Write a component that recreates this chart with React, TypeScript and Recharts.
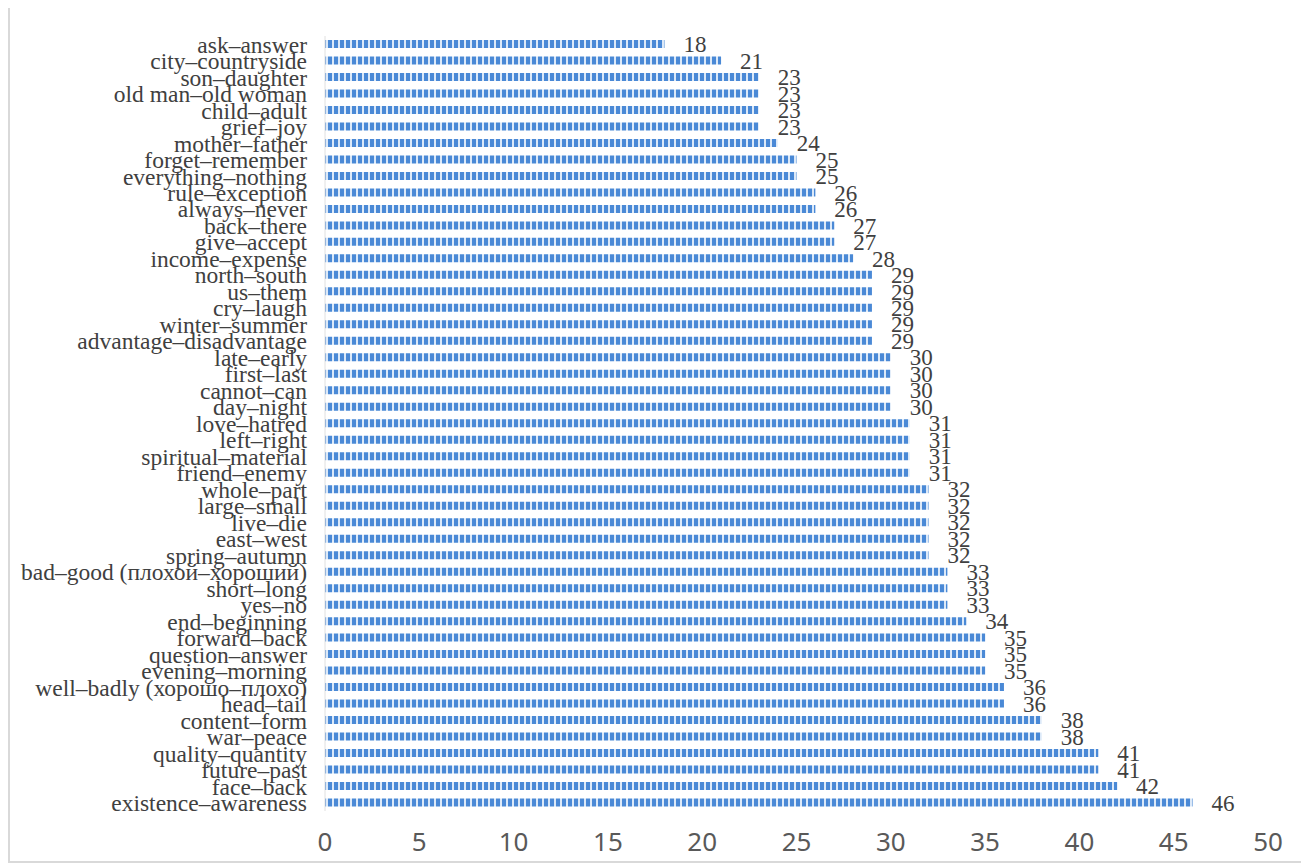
import React from 'react';
import { BarChart, Bar, XAxis, YAxis, LabelList } from 'recharts';

// Word pairs, listed top to bottom
const pairs: string[] = [
  'ask–answer',
  'city–countryside',
  'son–daughter',
  'old man–old woman',
  'child–adult',
  'grief–joy',
  'mother–father',
  'forget–remember',
  'everything–nothing',
  'rule–exception',
  'always–never',
  'back–there',
  'give–accept',
  'income–expense',
  'north–south',
  'us–them',
  'cry–laugh',
  'winter–summer',
  'advantage–disadvantage',
  'late–early',
  'first–last',
  'cannot–can',
  'day–night',
  'love–hatred',
  'left–right',
  'spiritual–material',
  'friend–enemy',
  'whole–part',
  'large–small',
  'live–die',
  'east–west',
  'spring–autumn',
  'bad–good (плохой–хороший)',
  'short–long',
  'yes–no',
  'end–beginning',
  'forward–back',
  'question–answer',
  'evening–morning',
  'well–badly (хорошо–плохо)',
  'head–tail',
  'content–form',
  'war–peace',
  'quality–quantity',
  'future–past',
  'face–back',
  'existence–awareness',
];

// Number of occurrences per pair, same order
const counts: number[] = [
  18, 21, 23, 23, 23, 23, 24, 25, 25, 26, 26, 27, 27, 28, 29, 29, 29, 29, 29, 30,
  30, 30, 30, 31, 31, 31, 31, 32, 32, 32, 32, 32, 33, 33, 33, 34, 35, 35, 35, 36,
  36, 38, 38, 41, 41, 42, 46,
];

const xTicks: number[] = [0, 5, 10, 15, 20, 25, 30, 35, 40, 45, 50];

const rows = pairs.map((name, i) => ({ name, value: counts[i] }));

const SERIF = '"Liberation Serif", "DejaVu Serif", serif';
const SANS = '"Noto Sans", "Open Sans", sans-serif';

export default function App() {
  return (
    <div
      style={{
        position: 'relative',
        top: -2,
        width: 1293,
        height: 853,
        border: '2px solid #d9d9d9',
        background: '#ffffff',
      }}
    >
      <BarChart
        width={1293}
        height={853}
        data={rows}
        layout="vertical"
        margin={{ top: 28, right: 35, left: 0, bottom: 0 }}
      >
        <defs>
          <pattern id="stripes" patternUnits="userSpaceOnUse" width={6} height={20}>
            <rect x={0} y={0} width={6} height={20} fill="#dce9f8" />
            <rect x={0} y={0} width={4} height={20} fill="#4a89d6" />
          </pattern>
        </defs>
        <XAxis
          type="number"
          domain={[0, 50]}
          ticks={xTicks}
          interval={0}
          axisLine={false}
          tickLine={false}
          tickSize={0}
          tickMargin={22}
          height={50}
          tick={{ fill: '#595959', fontSize: 26, fontFamily: SANS }}
        />
        <YAxis
          type="category"
          dataKey="name"
          width={315}
          interval={0}
          axisLine={{ stroke: '#e0e0e0', strokeWidth: 1 }}
          tickLine={false}
          tickSize={0}
          tickMargin={18}
          tick={{ fill: '#404040', fontSize: 23.5, fontFamily: SERIF }}
        />
        <Bar dataKey="value" fill="url(#stripes)" barSize={8} isAnimationActive={false}>
          <LabelList
            dataKey="value"
            position="right"
            offset={19}
            style={{ fill: '#404040', fontSize: 23, fontFamily: SERIF }}
          />
        </Bar>
      </BarChart>
    </div>
  );
}
